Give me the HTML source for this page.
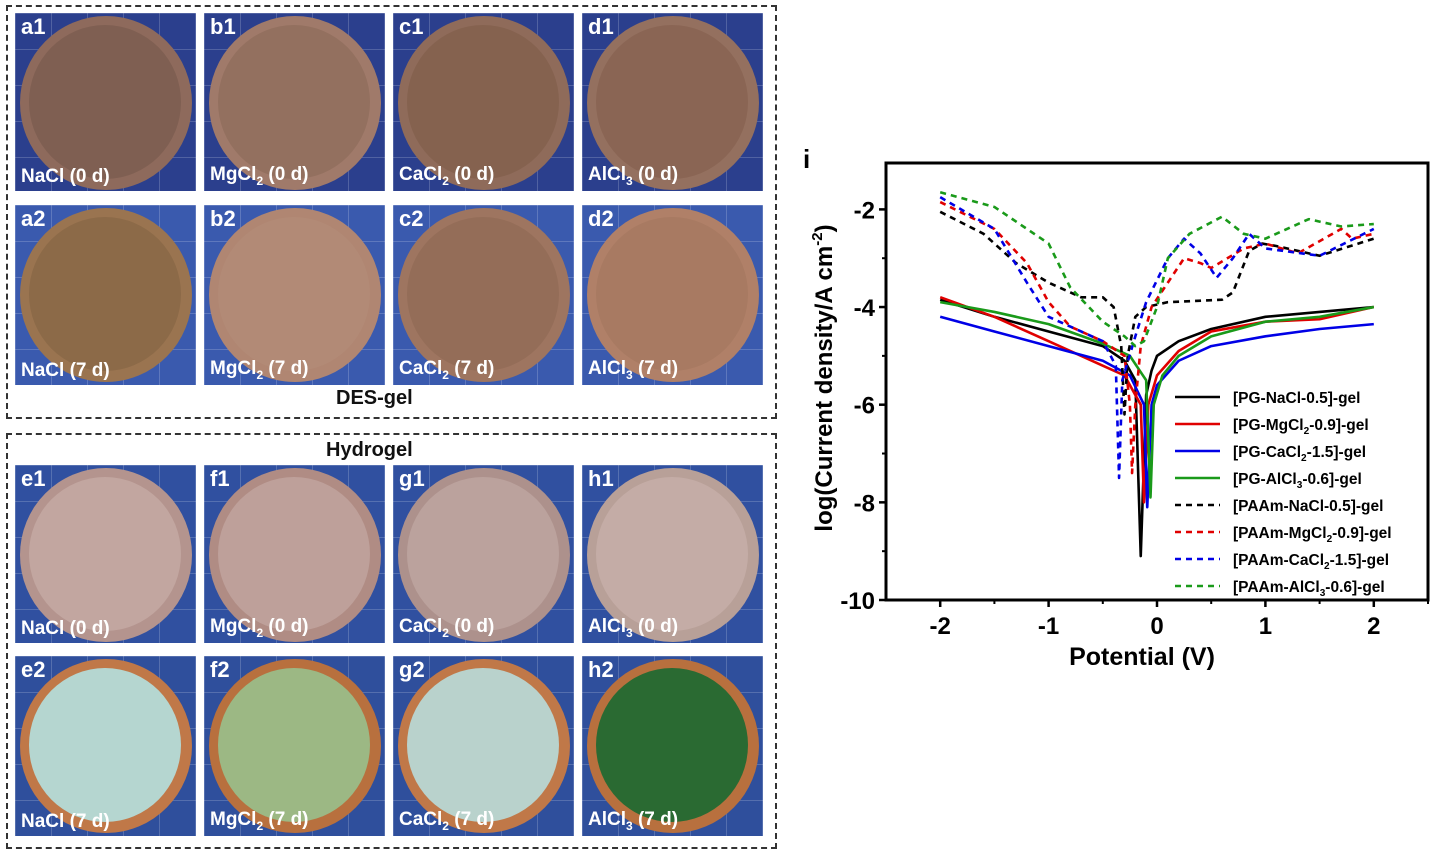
<!DOCTYPE html>
<html><head><meta charset="utf-8">
<style>
body{margin:0;width:1437px;height:852px;background:#fff;overflow:hidden;font-family:"Liberation Sans",sans-serif;position:relative}
.box{position:absolute;border:2px dashed #333;box-sizing:border-box}
.cell{position:absolute;overflow:hidden;background:#2a3f8c}
.cell .grid{position:absolute;inset:0;background-image:linear-gradient(90deg,rgba(255,255,255,.18) 1px,transparent 1px),linear-gradient(rgba(255,255,255,.18) 1px,transparent 1px);background-size:36px 36px}
.disc{position:absolute;border-radius:50%}
.inner{position:absolute;border-radius:50%}
.lab{position:absolute;color:#fff;font-weight:bold;font-size:22px;left:6px;top:1px}
.cap{position:absolute;color:#fff;font-weight:bold;font-size:19px;left:6px;bottom:3px;white-space:nowrap}
.cap sub{font-size:12px}
.title{position:absolute;font-weight:bold;font-size:20px;color:#111}
svg text{font-family:"Liberation Sans",sans-serif;font-weight:bold}
</style></head><body>
<div class="box" style="left:6px;top:5px;width:771px;height:414px"></div>
<div class="box" style="left:6px;top:433px;width:771px;height:416px"></div>
<div class="title" style="left:336px;top:387px">DES-gel</div>
<div class="title" style="left:326px;top:439px">Hydrogel</div>
<div id="cells"></div>
<svg id="chart" width="1437" height="852" style="position:absolute;left:0;top:0"></svg>
<script>
const cellsX=[15,204,393,582];
const cellsY=[13,205,465,656];
const cellInfo=[
 ['a1','NaCl (0 d)','#8e6a5c','#7f5f52','#2b3f8d'],['b1','MgCl<sub>2</sub> (0 d)','#a07a6a','#93705f','#2b3f8d'],['c1','CaCl<sub>2</sub> (0 d)','#8f6b5a','#85624f','#2b3f8d'],['d1','AlCl<sub>3</sub> (0 d)','#94705f','#8a6554','#2b3f8d'],
 ['a2','NaCl (7 d)','#9a7450','#8c6a48','#3a5aae'],['b2','MgCl<sub>2</sub> (7 d)','#b08672','#b28a76','#3a5aae'],['c2','CaCl<sub>2</sub> (7 d)','#9e7560','#946d58','#3a5aae'],['d2','AlCl<sub>3</sub> (7 d)','#b08068','#a87a62','#3a5aae'],
 ['e1','NaCl (0 d)','#b4948e','#c2a6a0','#3050a0'],['f1','MgCl<sub>2</sub> (0 d)','#b08c84','#bea09a','#3050a0'],['g1','CaCl<sub>2</sub> (0 d)','#ad918c','#bba29d','#3050a0'],['h1','AlCl<sub>3</sub> (0 d)','#b8a098','#c4aca6','#3050a0'],
 ['e2','NaCl (7 d)','#c07848','#b5d6d0','#2f4f9c'],['f2','MgCl<sub>2</sub> (7 d)','#b8703e','#9cb884','#2f4f9c'],['g2','CaCl<sub>2</sub> (7 d)','#c07848','#b9d2cc','#2f4f9c'],['h2','AlCl<sub>3</sub> (7 d)','#b8703e','#2a6a32','#2f4f9c']
];
const host=document.getElementById('cells');
cellInfo.forEach((c,i)=>{
  const r=Math.floor(i/4),col=i%4;
  const d=document.createElement('div');d.className='cell';
  
  
  d.style.left=cellsX[col]+'px';d.style.top=cellsY[r]+'px';d.style.width='181px';d.style.height=(r%2?180:178)+'px';d.style.background=c[4];
  d.innerHTML='<div class="grid"></div><div class="disc" style="left:5px;top:3px;width:172px;height:174px;background:'+c[2]+'"></div><div class="inner" style="left:14px;top:12px;width:152px;height:154px;background:'+c[3]+'"></div><div class="lab">'+c[0]+'</div><div class="cap">'+c[1]+'</div>';
  host.appendChild(d);
});
</script>
<script>
const xTicks=[-2,-1,0,1,2];
const yTicks=[-2,-4,-6,-8,-10];
const seriesNames=['[PG-NaCl-0.5]-gel','[PG-MgCl|2|-0.9]-gel','[PG-CaCl|2|-1.5]-gel','[PG-AlCl|3|-0.6]-gel','[PAAm-NaCl-0.5]-gel','[PAAm-MgCl|2|-0.9]-gel','[PAAm-CaCl|2|-1.5]-gel','[PAAm-AlCl|3|-0.6]-gel'];
const seriesColors=['#000','#e00000','#0000e6','#1a9a1a','#000','#e00000','#0000e6','#1a9a1a'];
const pgNaCl=[[-2,-3.85],[-1.5,-4.2],[-1,-4.5],[-0.5,-4.8],[-0.3,-5.1],[-0.2,-5.5],[-0.15,-9.1],[-0.1,-5.8],[-0.05,-5.3],[0,-5.0],[0.2,-4.7],[0.5,-4.45],[1,-4.2],[1.5,-4.1],[2,-4.0]];
const pgMg=[[-2,-3.8],[-1.5,-4.2],[-1,-4.7],[-0.5,-5.2],[-0.3,-5.4],[-0.15,-6],[-0.12,-8],[-0.08,-6],[0,-5.4],[0.2,-4.9],[0.5,-4.5],[1,-4.3],[1.5,-4.25],[2,-4.0]];
const pgCa=[[-2,-4.2],[-1.5,-4.5],[-1,-4.8],[-0.5,-5.1],[-0.25,-5.4],[-0.12,-6],[-0.09,-8.1],[-0.05,-6],[0,-5.6],[0.2,-5.1],[0.5,-4.8],[1,-4.6],[1.5,-4.45],[2,-4.35]];
const pgAl=[[-2,-3.9],[-1.5,-4.1],[-1,-4.35],[-0.5,-4.75],[-0.25,-5.0],[-0.1,-5.5],[-0.06,-7.9],[-0.03,-6],[0.05,-5.4],[0.2,-5.0],[0.5,-4.6],[1,-4.3],[1.5,-4.2],[2,-4.0]];
const paNaCl=[[-2,-2.05],[-1.6,-2.5],[-1.3,-3.1],[-1,-3.5],[-0.7,-3.8],[-0.5,-3.8],[-0.4,-4.0],[-0.33,-4.8],[-0.3,-6.2],[-0.27,-5],[-0.2,-4.2],[-0.1,-4.0],[0.1,-3.9],[0.6,-3.85],[0.7,-3.7],[0.85,-2.85],[0.97,-2.7],[1.1,-2.75],[1.5,-2.95],[2,-2.6]];
const paMg=[[-2,-1.85],[-1.5,-2.4],[-1.2,-3.1],[-1,-3.9],[-0.8,-4.4],[-0.5,-4.7],[-0.3,-5.0],[-0.25,-6],[-0.23,-7.4],[-0.2,-6],[-0.15,-4.8],[-0.05,-4.0],[0.1,-3.5],[0.25,-3.0],[0.4,-3.1],[0.5,-3.2],[0.8,-2.8],[1,-2.7],[1.3,-2.9],[1.7,-2.4],[1.8,-2.6],[2,-2.5]];
const paCa=[[-2,-1.75],[-1.5,-2.4],[-1.2,-3.5],[-1,-4.2],[-0.7,-4.5],[-0.5,-4.7],[-0.38,-5.2],[-0.35,-7.5],[-0.32,-5.5],[-0.2,-4.6],[-0.1,-3.9],[0.1,-3.0],[0.25,-2.6],[0.4,-2.9],[0.55,-3.4],[0.7,-3.0],[0.85,-2.5],[1,-2.8],[1.5,-2.95],[2,-2.4]];
const paAl=[[-2,-1.65],[-1.5,-1.95],[-1,-2.7],[-0.8,-3.6],[-0.5,-4.3],[-0.3,-4.6],[-0.2,-4.8],[-0.12,-4.7],[0,-4.0],[0.1,-3.0],[0.3,-2.5],[0.6,-2.15],[0.8,-2.5],[1,-2.6],[1.4,-2.2],[1.7,-2.35],[2,-2.3]];
const allSeries=[pgNaCl,pgMg,pgCa,pgAl,paNaCl,paMg,paCa,paAl];
const NS='http://www.w3.org/2000/svg';
const svg=document.getElementById('chart');
const L=886,R=1428,T=163,B=600;
const X=v=>L+(v+2.5)/5*(R-L);
const Y=v=>B-(v+10)/8.95*(B-T);
function mk(tag,attrs,parent){const e=document.createElementNS(NS,tag);for(const k in attrs)e.setAttribute(k,attrs[k]);(parent||svg).appendChild(e);return e;}
function rich(t,str,size){str.split('|').forEach((p,i)=>{const s=document.createElementNS(NS,'tspan');s.textContent=p;if(i%2===1){s.setAttribute('font-size',size*0.65);s.setAttribute('dy',4);}else if(i>0){s.setAttribute('dy',-4);}t.appendChild(s);});}
allSeries.forEach((s,i)=>{
  const p=mk('polyline',{points:s.map(d=>X(d[0])+','+Y(d[1])).join(' '),fill:'none',stroke:seriesColors[i],'stroke-width':2.6,'stroke-dasharray':i>=4?'6,5':'none','stroke-linejoin':'round'});
  
  
});
const frame=mk('rect',{x:L,y:T,width:R-L,height:B-T,fill:'none',stroke:'#000','stroke-width':3});


xTicks.forEach(v=>{
  mk('line',{x1:X(v),x2:X(v),y1:B,y2:B+7,stroke:'#000','stroke-width':2.5});
  mk('line',{x1:X(v+0.5),x2:X(v+0.5),y1:B,y2:B+4,stroke:'#000','stroke-width':2});
  const t=mk('text',{x:X(v),y:B+34,'text-anchor':'middle','font-size':24});t.textContent=v;
  
  
});
yTicks.forEach(v=>{
  mk('line',{x1:L-7,x2:L,y1:Y(v),y2:Y(v),stroke:'#000','stroke-width':2.5});
  if(v<-2) mk('line',{x1:L-4,x2:L,y1:Y(v+1),y2:Y(v+1),stroke:'#000','stroke-width':2});
  const t=mk('text',{x:L-11,y:Y(v)+9,'text-anchor':'end','font-size':24});t.textContent=v;
  
  
});
const xt=mk('text',{x:(L+R)/2-15,y:665,'text-anchor':'middle','font-size':25});xt.textContent='Potential (V)';


const yt=mk('text',{x:0,y:0,'text-anchor':'middle','font-size':24,transform:'translate(832,378) rotate(-90)'});
yt.innerHTML='<tspan>log(Current density/A cm</tspan><tspan font-size="15" dy="-10">-2</tspan><tspan dy="10">)</tspan>';


const pl=mk('text',{x:803,y:168,'font-size':26});pl.textContent='i';


seriesNames.forEach((n,i)=>{
  const y=397+i*27;
  const g=mk('g',{});
  
  
  mk('line',{x1:1175,x2:1220,y1:y,y2:y,stroke:seriesColors[i],'stroke-width':2.6,'stroke-dasharray':i>=4?'6,5':'none'},g);
  const t=mk('text',{x:1233,y:y+6,'font-size':15.5},g);rich(t,n,15.5);
});
</script>
</body></html>
